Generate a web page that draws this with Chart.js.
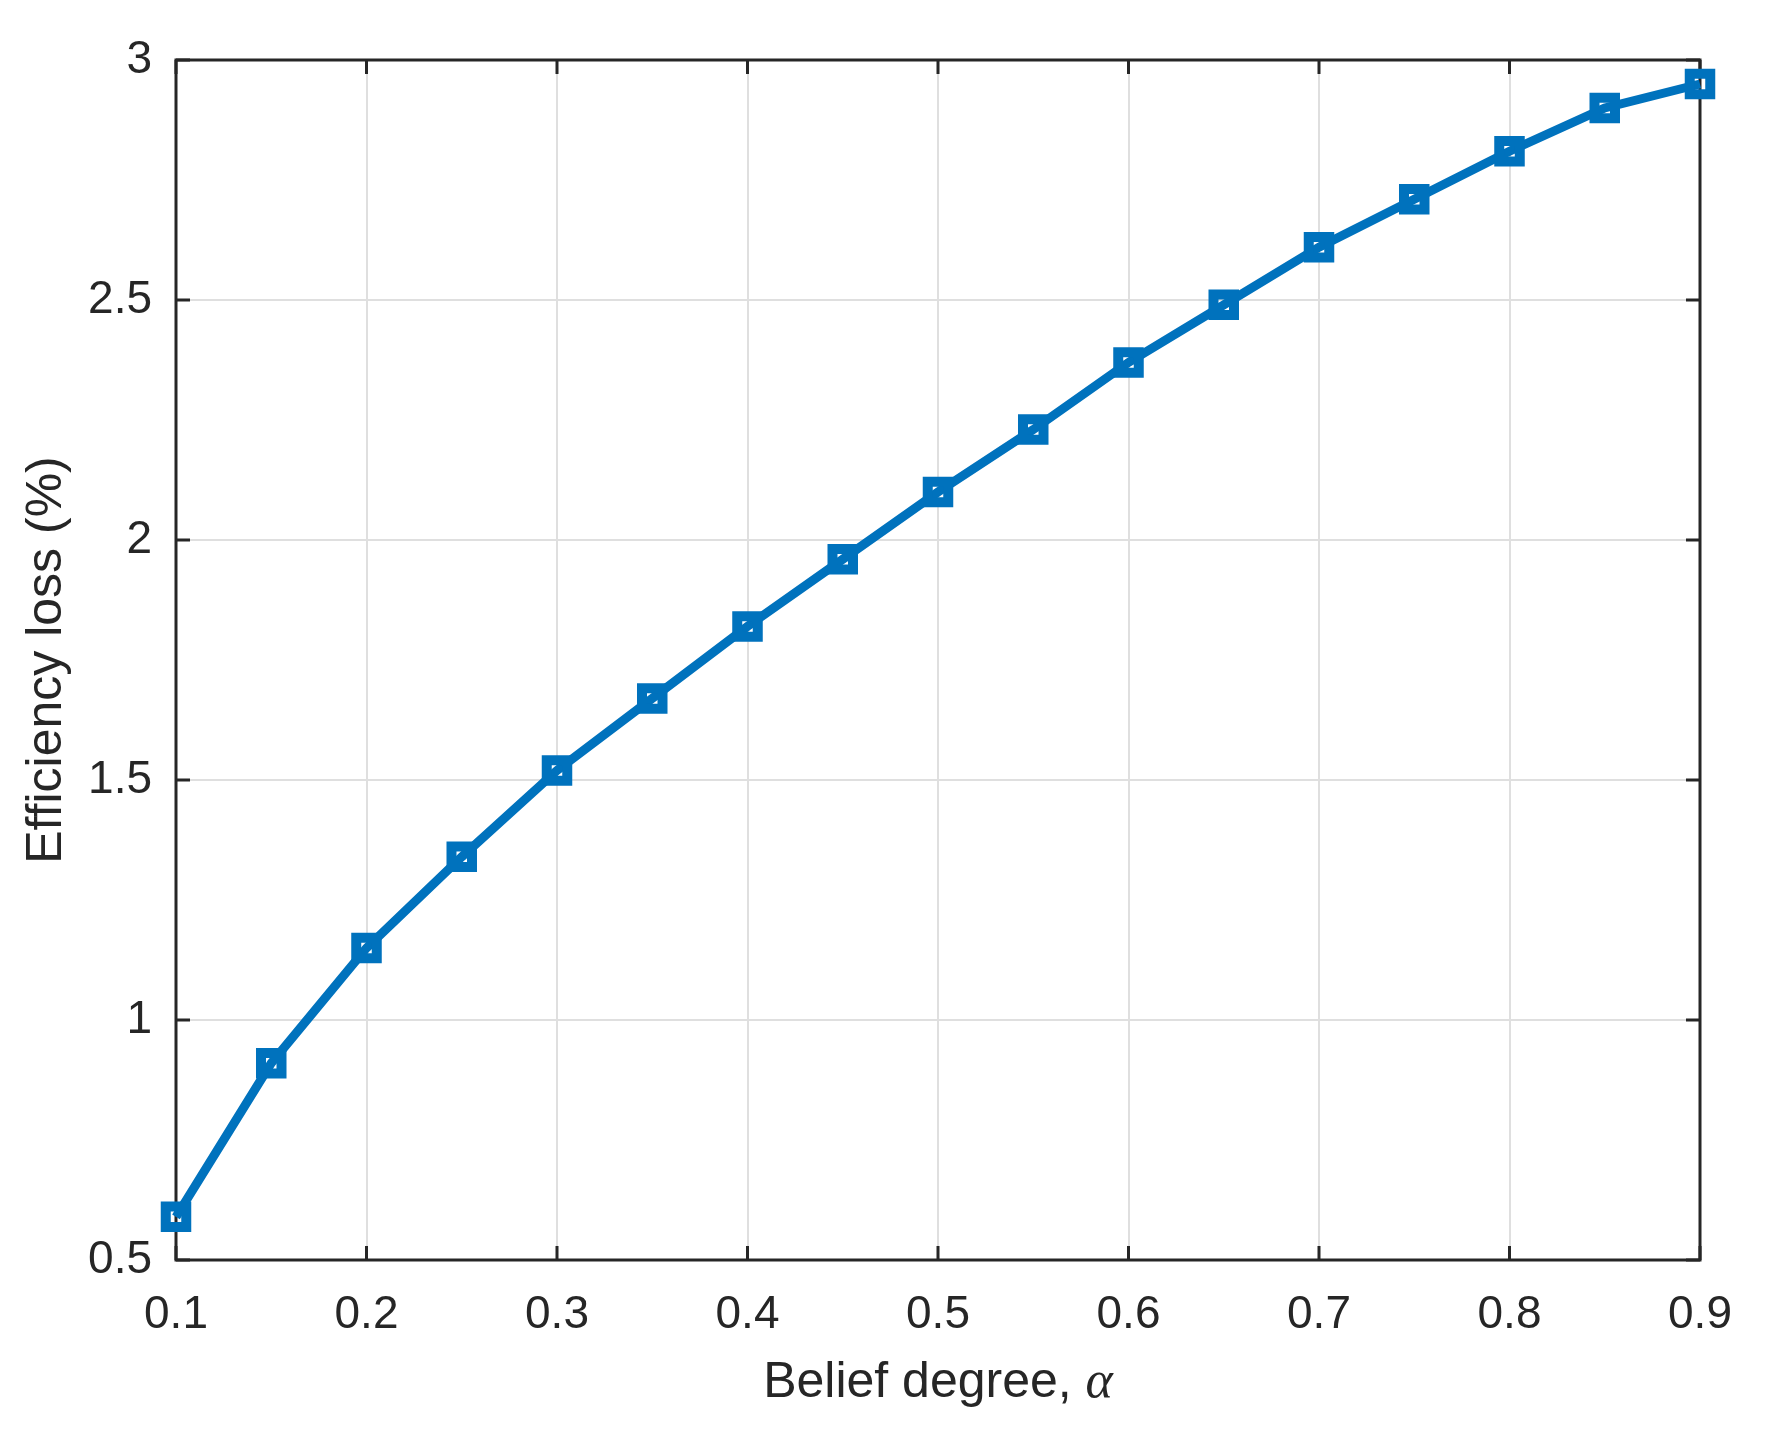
<!DOCTYPE html>
<html>
<head>
<meta charset="utf-8">
<script src="https://cdn.jsdelivr.net/npm/chart.js@4"></script>
<style>
  html, body { margin: 0; padding: 0; background: #fff; }
  canvas { display: block; }
</style>
</head>
<body>
<canvas id="lossChart" width="1771" height="1431"></canvas>
<script>
/******************* Efficiency loss vs belief degree ***********************/
const beliefDegree = [0.1, 0.15, 0.2, 0.25, 0.3, 0.35, 0.4, 0.45, 0.5, 0.55, 0.6, 0.65, 0.7, 0.75, 0.8, 0.85, 0.9];
const efficiencyLoss = [0.59, 0.91, 1.15, 1.34, 1.52, 1.67, 1.82, 1.96, 2.10, 2.23, 2.37, 2.49, 2.61, 2.71, 2.81, 2.90, 2.95];
const xTickValues = [0.1, 0.2, 0.3, 0.4, 0.5, 0.6, 0.7, 0.8, 0.9];
const yTickValues = [0.5, 1, 1.5, 2, 2.5, 3];

const LINE_BLUE = '#0072BD';
const AXIS_DARK = '#262626';
const GRID_LIGHT = '#dfdfdf';
const SANS = "'Liberation Sans', Arial, Helvetica, sans-serif";

// MATLAB-style box with inward ticks on all four sides
const boxPlugin = {
    id: 'boxPlugin',
    beforeDatasetsDraw(chart) {
        const {ctx, chartArea: a, scales: {x, y}} = chart;
        const tl = 14;
        ctx.save();
        ctx.strokeStyle = AXIS_DARK;
        ctx.lineWidth = 3;
        ctx.strokeRect(a.left, a.top, a.right - a.left, a.bottom - a.top);
        ctx.beginPath();
        xTickValues.forEach(v => {
            const px = x.getPixelForValue(v);
            ctx.moveTo(px, a.bottom); ctx.lineTo(px, a.bottom - tl);
            ctx.moveTo(px, a.top); ctx.lineTo(px, a.top + tl);
        });
        yTickValues.forEach(v => {
            const py = y.getPixelForValue(v);
            ctx.moveTo(a.left, py); ctx.lineTo(a.left + tl, py);
            ctx.moveTo(a.right, py); ctx.lineTo(a.right - tl, py);
        });
        ctx.stroke();
        ctx.restore();
    },
    afterDraw(chart) {
        // x title with an italic alpha, like the LaTeX label
        const {ctx, chartArea: a} = chart;
        const part1 = 'Belief degree, ';
        const part2 = '\u03B1';
        ctx.save();
        ctx.fillStyle = AXIS_DARK;
        ctx.textBaseline = 'alphabetic';
        ctx.font = '50px ' + SANS;
        const w1 = ctx.measureText(part1).width;
        ctx.font = "italic 52px 'Liberation Serif', 'DejaVu Serif', serif";
        const w2 = ctx.measureText(part2).width;
        const startX = (a.left + a.right) / 2 - (w1 + w2) / 2;
        const baseY = 1397;
        ctx.font = '50px ' + SANS;
        ctx.textAlign = 'left';
        ctx.fillText(part1, startX, baseY);
        ctx.font = "italic 52px 'Liberation Serif', 'DejaVu Serif', serif";
        ctx.fillText(part2, startX + w1, baseY);
        ctx.restore();
    }
};

const data = {
    labels: beliefDegree,
    datasets: [
        {
            label: 'Efficiency loss',
            data: beliefDegree.map((v, i) => ({x: v, y: efficiencyLoss[i]})),
            borderColor: LINE_BLUE,
            backgroundColor: LINE_BLUE,
            borderWidth: 9,
            pointStyle: 'rect',
            pointRadius: 14.5,
            pointBorderWidth: 10,
            pointBorderColor: LINE_BLUE,
            pointBackgroundColor: 'rgba(0,0,0,0)',
            tension: 0,
            clip: false,
            fill: false
        }
    ]
};

const config = {
    type: 'line',
    data: data,
    options: {
        responsive: false,
        animation: false,
        devicePixelRatio: 1,
        layout: {
            padding: {top: 60, right: 71, left: 0, bottom: 0}
        },
        plugins: {
            legend: {display: false},
            tooltip: {enabled: false}
        },
        scales: {
            x: {
                type: 'linear',
                min: 0.1,
                max: 0.9,
                afterBuildTicks: s => { s.ticks = xTickValues.map(v => ({value: v})); },
                afterFit: s => { s.height = 171; },
                grid: {
                    color: GRID_LIGHT,
                    lineWidth: 2,
                    drawTicks: false
                },
                border: {display: false},
                ticks: {
                    color: AXIS_DARK,
                    font: {family: SANS, size: 46},
                    padding: 28,
                    maxRotation: 0,
                    callback: v => String(v)
                },
                title: {display: false}
            },
            y: {
                type: 'linear',
                min: 0.5,
                max: 3,
                afterBuildTicks: s => { s.ticks = yTickValues.map(v => ({value: v})); },
                afterFit: s => { s.width = 176; },
                grid: {
                    color: GRID_LIGHT,
                    lineWidth: 2,
                    drawTicks: false
                },
                border: {display: false},
                ticks: {
                    color: AXIS_DARK,
                    font: {family: SANS, size: 46},
                    padding: 24,
                    callback: v => String(v)
                },
                title: {
                    display: true,
                    text: 'Efficiency loss (%)',
                    color: AXIS_DARK,
                    font: {family: SANS, size: 50},
                    padding: {top: 17, bottom: 0}
                }
            }
        }
    },
    plugins: [boxPlugin]
};

const lossChart = new Chart(
    document.getElementById('lossChart'),
    config
);
</script>
</body>
</html>
